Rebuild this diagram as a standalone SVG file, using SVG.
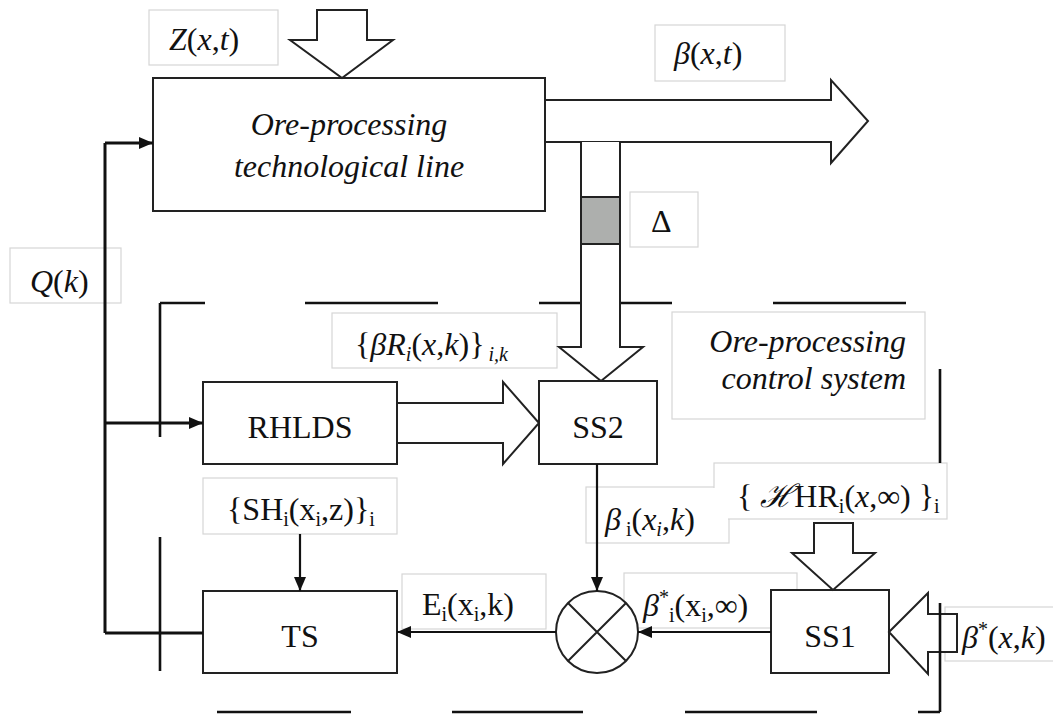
<svg xmlns="http://www.w3.org/2000/svg" width="1053" height="714" viewBox="0 0 1053 714" font-family="'Liberation Serif', 'Times New Roman', serif">
<style>
text{font-family:'Liberation Serif','Times New Roman',serif;font-size:32px;fill:#111}
.it{font-style:italic}
.sub{font-size:20px}
.box{fill:#fff;stroke:#222;stroke-width:2}
.fat{fill:#fff;stroke:#222;stroke-width:2;stroke-linejoin:miter}
.lbl{fill:#fff;stroke:#d6d6d6;stroke-width:1.2}
.lblf{fill:#fff;stroke:none}
.ln{fill:none;stroke:#111;stroke-width:2.2}
.q{fill:none;stroke:#111;stroke-width:3}
.dash{fill:none;stroke:#111;stroke-width:2.6}
</style>
<defs>
<marker id="ah" viewBox="0 0 14 12" refX="14" refY="6" markerWidth="14" markerHeight="12" markerUnits="userSpaceOnUse" orient="auto">
<path d="M0,0 L14,6 L0,12 Z" fill="#111"/>
</marker>
</defs>

<g id="labels">
<rect class="lbl" x="149" y="10" width="129" height="55"/>
<rect class="lbl" x="655" y="25" width="130" height="56"/>
<rect class="lbl" x="630" y="192" width="68" height="55"/>
<rect class="lbl" x="10" y="248" width="111" height="55"/>
<rect class="lbl" x="332" y="313" width="225" height="55"/>
<rect class="lbl" x="672" y="312" width="253" height="107"/>
<rect class="lbl" x="203" y="478" width="194" height="56"/>
<rect class="lbl" x="586" y="487" width="143" height="56"/>
<rect class="lbl" x="714" y="463" width="233" height="56"/>
<rect class="lbl" x="402" y="574" width="144" height="55"/>
<rect class="lbl" x="624" y="573" width="173" height="55"/>
<rect class="lbl" x="945" y="607" width="120" height="54"/>
<rect class="lblf" x="587" y="488" width="141" height="54"/>
<rect class="lblf" x="715" y="464" width="231" height="54"/>
</g>

<g id="boundary">
<path class="dash" d="M160,303 H205 M305,303 H438 M539,303 H672 M773,303 H906 M160,303 V437 M160,537 V671 M940,369 V463 M217,712 H351 M452,712 H583 M685,712 H817 M918,712 H940"/>
</g>

<g id="line">
<rect class="box" x="153" y="78" width="392" height="133"/>
<text class="it" x="349" y="135" text-anchor="middle">Ore-processing</text>
<text class="it" x="349" y="177" text-anchor="middle">technological line</text>
</g>

<g id="z-input">
<polygon class="fat" points="317,10 367,10 367,40 393,40 342,78 290,40 317,40"/>
<text x="169" y="50"><tspan class="it">Z</tspan>(<tspan class="it">x</tspan>,<tspan class="it">t</tspan>)</text>
</g>

<g id="beta-output">
<polygon class="fat" points="545,100 831,100 831,80 868,121 831,163 831,142 545,142"/>
<text x="674" y="64"><tspan class="it">β</tspan>(<tspan class="it">x</tspan>,<tspan class="it">t</tspan>)</text>
</g>

<g id="sampler">
<path class="fat" d="M581,142 V347 H559 L601,381 L643,347 H620 V142"/>
<rect x="581" y="197" width="39" height="47" fill="#adafad" stroke="#222" stroke-width="2"/>
<text x="651" y="232">Δ</text>
</g>

<g id="rhlds">
<rect class="box" x="203" y="382" width="194" height="82"/>
<text x="300" y="438" text-anchor="middle">RHLDS</text>
</g>
<g id="rhlds-ss2">
<polygon class="fat" points="397,403 503,403 503,382 539,423 503,464 503,443 397,443"/>
</g>

<g id="ss2">
<rect class="box" x="539" y="381" width="118" height="83"/>
<text x="598" y="438" text-anchor="middle">SS2</text>
</g>

<g id="ts">
<rect class="box" x="203" y="591" width="194" height="82"/>
<text x="300" y="647" text-anchor="middle">TS</text>
</g>

<g id="ss1">
<rect class="box" x="771" y="590" width="118" height="83"/>
<text x="830" y="647" text-anchor="middle">SS1</text>
</g>
<g id="hhr-input">
<polygon class="fat" points="814,523 853,523 853,553 875,553 833,590 792,553 814,553"/>
</g>
<g id="beta-star-input">
<polygon class="fat" points="889,632 928,593 928,614 957,614 957,652 928,652 928,674"/>
</g>

<g id="comparator">
<circle cx="597" cy="632" r="41" fill="#fff" stroke="#222" stroke-width="2"/>
<path d="M568,603 L626,661 M626,603 L568,661" stroke="#222" stroke-width="2"/>
</g>

<g id="connectors">
<path class="q" d="M105,633 H203 M105,143 V633" />
<path class="q" d="M105,143 H153" marker-end="url(#ah)"/>
<path class="q" d="M105,423 H203" marker-end="url(#ah)"/>
<path class="ln" d="M597,464 V591" marker-end="url(#ah)"/>
<path class="ln" d="M300,534 V591" marker-end="url(#ah)"/>
<path class="ln" d="M771,632 H638" marker-end="url(#ah)"/>
<path class="ln" d="M556,632 H397" marker-end="url(#ah)"/>
<path class="dash" d="M940,603 V712"/>
</g>

<g id="texts">
<text x="30" y="292"><tspan class="it">Q</tspan>(<tspan class="it">k</tspan>)</text>
<text x="355" y="355">{<tspan class="it">βR</tspan><tspan class="it sub" dy="6">i</tspan><tspan dy="-6">(</tspan><tspan class="it">x</tspan>,<tspan class="it">k</tspan>)}<tspan class="it sub" dy="6" dx="4">i,k</tspan></text>
<text class="it" x="906" y="352" text-anchor="end">Ore-processing</text>
<text class="it" x="906" y="389" text-anchor="end">control system</text>
<text x="227" y="520">{SH<tspan class="sub" dy="6">i</tspan><tspan dy="-6">(x</tspan><tspan class="sub" dy="6">i</tspan><tspan dy="-6">,z)}</tspan><tspan class="sub" dy="6">i</tspan></text>
<text x="605" y="530"><tspan class="it">β</tspan><tspan class="sub" dy="6"> i</tspan><tspan dy="-6">(</tspan><tspan class="it">x</tspan><tspan class="it sub" dy="6">i</tspan><tspan dy="-6">,</tspan><tspan class="it">k</tspan>)</text>
<text x="737" y="507">{ <tspan class="it">ℋ</tspan>HR<tspan class="sub" dy="6">i</tspan><tspan dy="-6">(</tspan><tspan class="it">x</tspan>,∞) }<tspan class="sub" dy="6">i</tspan></text>
<text x="422" y="615">E<tspan class="sub" dy="6">i</tspan><tspan dy="-6">(x</tspan><tspan class="sub" dy="6">i</tspan><tspan dy="-6">,k)</tspan></text>
<text x="643" y="616"><tspan class="it">β</tspan><tspan class="sub" dy="-12">*</tspan><tspan class="sub" dy="18">i</tspan><tspan dy="-6">(x</tspan><tspan class="sub" dy="6">i</tspan><tspan dy="-6">,∞)</tspan></text>
<text x="962" y="648"><tspan class="it">β</tspan><tspan class="sub" dy="-12">*</tspan><tspan dy="12">(</tspan><tspan class="it">x</tspan>,<tspan class="it">k</tspan>)</text>
</g>
</svg>
